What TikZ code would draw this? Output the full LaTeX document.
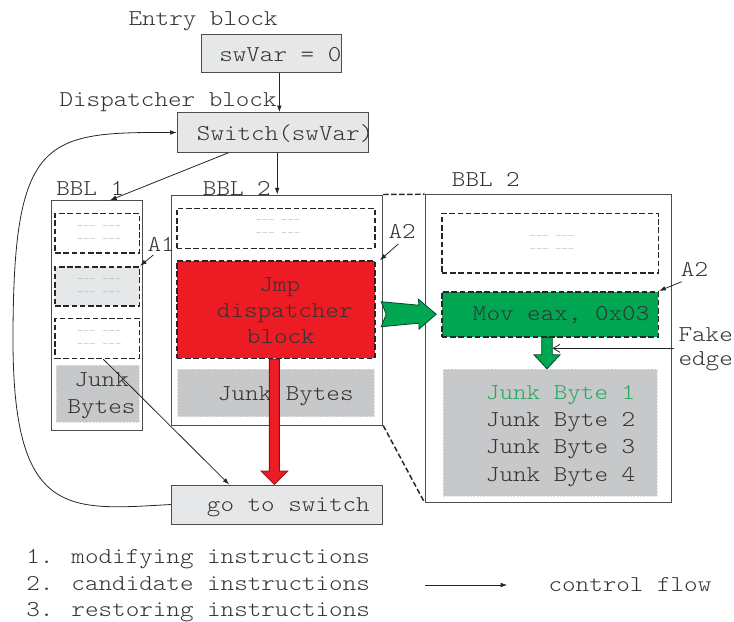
\documentclass[tikz,border=0pt]{standalone}
\usepackage{fontspec}
\newfontfamily\mono{lmmonolt10-regular.otf}[FakeStretch=1.14, Ligatures=TeXOff]
\usetikzlibrary{fit,calc,arrows.meta}
\definecolor{txtgray}{HTML}{333333}
\definecolor{boxfill}{HTML}{E6E7E8}
\definecolor{junkfill}{HTML}{C7C8CA}
\definecolor{edgegray}{HTML}{4D4D4D}
\definecolor{jmpred}{HTML}{ED1C24}
\definecolor{movgreen}{HTML}{00A651}
\definecolor{junkgreen}{HTML}{25A85E}
\definecolor{hint}{HTML}{B0B0B0}
\newcommand{\dashes}{\mbox{-}\mbox{-}\mbox{-} \mbox{-}\mbox{-}\mbox{-}}

\begin{document}
\begin{tikzpicture}[x=0.75pt,y=-0.75pt,
  txt/.style={font=\mono\fontsize{17}{20}\selectfont, text=txtgray, inner sep=0pt, anchor=base west},
  hinttxt/.style={font=\mono\fontsize{8}{9.75}\selectfont, text=hint, align=center, inner sep=0pt},
  solidbox/.style={draw=edgegray, line width=0.75pt, fill=boxfill, inner sep=0pt},
  bblbox/.style={draw=edgegray, line width=0.75pt, inner sep=0pt},
  instr/.style={draw=black!85, line width=1.2pt, dash pattern=on 4.2pt off 2pt, inner sep=0pt},
  junk/.style={fill=junkfill, draw=white!88!black, line width=0.7pt, dash pattern=on 1.5pt off 1pt, inner sep=0pt},
  flow/.style={draw=black!85, line width=0.6pt, -{Latex[length=5pt,width=3.5pt]}},
  zoomline/.style={draw=black!85, line width=1.1pt, dash pattern=on 4pt off 2pt},
  fat/.style={line width=0.6pt, line join=miter}
]
\useasboundingbox (0,0) rectangle (734,621);

% entry and dispatcher blocks
\node[solidbox, fit={(201.7,34.3) (341,72.7)}] (swvar) {};
\node[solidbox, fit={(177.3,112.7) (368.3,152.3)}] (switch) {};

% basic block 1
\node[bblbox, fit={(51.7,200.7) (142.3,430)}] (bbl1) {};
\node[instr, fit={(55,213.3) (139.3,252.7)}] (b1i1) {};
\node[instr, fill=boxfill, fit={(55,266.7) (139.3,306)}] (b1i2) {};
\node[instr, fit={(55,318.3) (139.3,358.3)}] (b1i3) {};
\node[junk, fit={(56,365) (139,422.3)}] (b1junk) {};

% basic block 2
\node[bblbox, fit={(171.7,195) (382.7,425)}] (bbl2) {};
\node[instr, fit={(176.7,208.3) (375,248.3)}] (b2i1) {};
\node[instr, fill=jmpred, fit={(176.7,261) (375,358.3)}] (jmp) {};
\node[junk, fit={(177.7,369.3) (374.3,416.7)}] (b2junk) {};

% basic block 2, enlarged
\node[bblbox, fit={(425,194.7) (671,502)}] (bblr) {};
\node[instr, fit={(441.7,213.3) (658.3,272.7)}] (bri1) {};
\node[instr, fill=movgreen, fit={(441.7,291.7) (658.3,336.7)}] (mov) {};
\node[junk, fit={(443.3,369.3) (657.3,496)}] (brjunk) {};

% return to the dispatcher
\node[solidbox, fit={(171.7,485) (382.7,524)}] (goto) {};

% placeholder instructions
\node[hinttxt] (h1) at ([shift={(2,1)}]b1i1.center) {\dashes\\\dashes};
\node[hinttxt] (h2) at ([shift={(2,1)}]b1i2.center) {\dashes\\\dashes};
\node[hinttxt] (h3) at ([shift={(2,1)}]b1i3.center) {\dashes\\\dashes};
\node[hinttxt] (h4) at ([shift={(2,0)}]b2i1.center) {\dashes\\\dashes};
\node[hinttxt] (h5) at ([shift={(2,1.5)}]bri1.center) {\dashes\\\dashes};

% labels and block contents
\node[txt] (lentry) at (128.3,25.7) {Entry block};
\node[txt] (tswvar) at (219,61.7) {swVar = 0};
\node[txt] (ldisp) at (59.3,106) {Dispatcher block};
\node[txt] (tswitch) at (196.7,140) {Switch(swVar)};
\node[txt] (lbbl1) at (56,195.5) {BBL 1};
\node[txt] (lbbl2) at (202.7,195.5) {BBL 2};
\node[txt] (lbblr) at (451.7,186.7) {BBL 2};
\node[txt] (la1) at (147.3,251.7) {A1};
\node[txt] (la2a) at (388.3,238.3) {A2};
\node[txt] (la2b) at (680.7,276) {A2};
\node[txt] (tjunk1a) at (74.3,386) {Junk};
\node[txt] (tjunk1b) at (67.3,413.3) {Bytes};
\node[txt] (tjmp1) at (259.3,291) {Jmp};
\node[txt] (tjmp2) at (216.7,317.7) {dispatcher};
\node[txt] (tjmp3) at (246.7,343.3) {block};
\node[txt] (tjunk2) at (217.7,400) {Junk Bytes};
\node[txt] (tmov) at (472.7,320.7) {Mov eax, 0x03};
\node[txt] (lfake1) at (678.3,341) {Fake};
\node[txt] (lfake2) at (678.3,365) {edge};
\node[txt, text=junkgreen] (jb1) at (485.7,399.3) {Junk Byte 1};
\node[txt] (jb2) at (485.7,426.7) {Junk Byte 2};
\node[txt] (jb3) at (485.7,453.3) {Junk Byte 3};
\node[txt] (jb4) at (485.7,481) {Junk Byte 4};
\node[txt] (tgoto) at (206.7,511.7) {go to switch};

% legend
\node[txt] (leg1) at (26,563.3) {1. modifying instructions};
\node[txt] (leg2) at (26,590.7) {2. candidate instructions};
\node[txt] (leg3) at (26,616.7) {3. restoring instructions};
\node[txt] (lflow) at (548.3,591.7) {control flow};
\coordinate (lgA) at (425,585);
\coordinate (lgB) at (507.3,585);
\draw[flow] (lgA) -- (lgB);

% control flow edges
\coordinate (e1) at ([shift={(8,0)}]swvar.south);
\draw[flow] (e1) -- (e1 |- switch.north);
\draw[flow] (switch.south -| bbl2.north) -- (bbl2.north);
\draw[flow] ([shift={(-44.5,0)}]switch.south) -- ([shift={(13,0)}]bbl1.north);
\draw[flow] ([shift={(6,3.3)}]la1.base west) -- (b1i2.north east);
\draw[flow] ([shift={(10,5.7)}]la2a.base west) -- ([shift={(4,0)}]jmp.north east);
\draw[flow] ([shift={(1,5.7)}]la2b.base west) -- (mov.north east);
\draw[flow] ([shift={(6,0)}]b1i3.south) -- ([shift={(-48,0)}]goto.north);
\draw[flow] (goto.west) .. controls (70,510) and (13,520) .. (13,340)
  .. controls (13,137) and (44,132) .. (switch.west);

% enlargement of basic block 2
\draw[zoomline] (bbl2.north east) -- (bblr.north west);
\draw[zoomline] (bbl2.south east) -- (bblr.south west);

% jump back to the dispatcher
\coordinate (rt) at ([shift={(-1.5,0)}]jmp.south);
\coordinate (rtip) at (rt |- goto.north);
\filldraw[fat, fill=jmpred, draw=jmpred!60!black]
  ([shift={(-5,0)}]rt) -- ([shift={(-5,-13.5)}]rtip) -- ([shift={(-13.5,-13.5)}]rtip)
  -- (rtip) -- ([shift={(13.5,-13.5)}]rtip) -- ([shift={(5,-13.5)}]rtip)
  -- ([shift={(5,0)}]rt) -- cycle;

% the jump rewritten as a move
\begin{scope}[shift={(mov.west)}]
\filldraw[fat, fill=movgreen, draw=movgreen!45!black]
  (-59.7,-12.5) -- (-22,-9) -- (-22.5,-15) -- (-4.7,0) -- (-22,15)
  -- (-22,9) -- (-59.7,12.5) -- (-54.7,0) -- cycle;
\end{scope}

% fall-through into the junk bytes
\coordinate (gt) at ([shift={(-3,0)}]mov.south);
\coordinate (gtip) at (gt |- brjunk.north);
\filldraw[fat, fill=movgreen, draw=movgreen!45!black]
  ([shift={(-5.3,0)}]gt) -- ([shift={(-5.3,-14)}]gtip) -- ([shift={(-13,-14)}]gtip)
  -- (gtip) -- ([shift={(13,-14)}]gtip) -- ([shift={(5.3,-14)}]gtip)
  -- ([shift={(5.3,0)}]gt) -- cycle;
\coordinate (fkA) at (674,348.3);
\coordinate (fkB) at (552.5,348.3);
\draw[draw=black!85, line width=0.6pt, -{Straight Barb[length=5pt,width=6pt]}] (fkA) -- (fkB);
\end{tikzpicture}
\end{document}
